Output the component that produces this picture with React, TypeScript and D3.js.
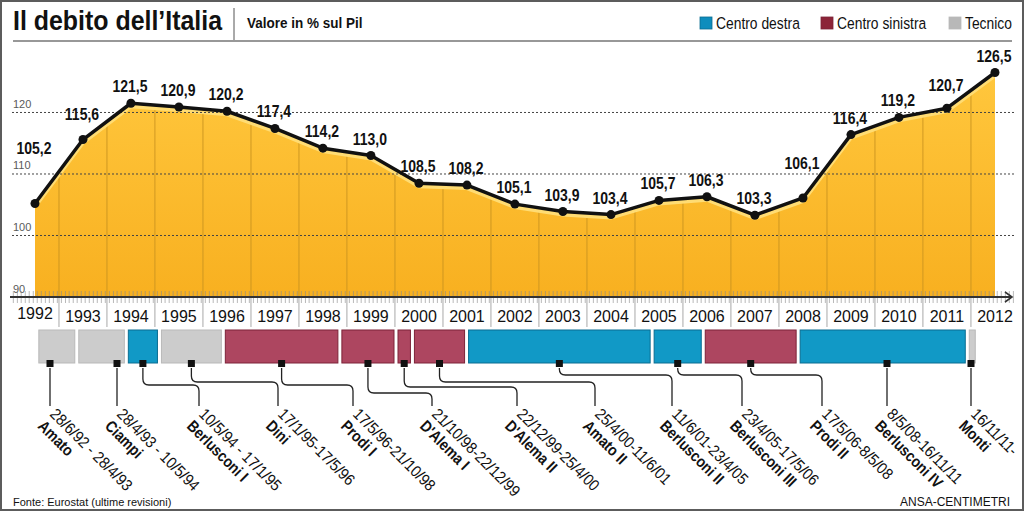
import * as d3 from "d3";
import type { ReactNode } from "react";

// Debito pubblico in % del Pil (Eurostat)
const years = [
  1992, 1993, 1994, 1995, 1996, 1997, 1998, 1999, 2000, 2001, 2002, 2003,
  2004, 2005, 2006, 2007, 2008, 2009, 2010, 2011, 2012,
];
const debt = [
  105.2, 115.6, 121.5, 120.9, 120.2, 117.4, 114.2, 113.0, 108.5, 108.2, 105.1,
  103.9, 103.4, 105.7, 106.3, 103.3, 106.1, 116.4, 119.2, 120.7, 126.5,
];
const yTicks = [90, 100, 110, 120];

// Governi
const govNames = [
  "Amato", "Ciampi", "Berlusconi I", "Dini", "Prodi I", "D'Alema I",
  "D'Alema II", "Amato II", "Berlusconi II", "Berlusconi III", "Prodi II",
  "Berlusconi IV", "Monti",
];
const govStart = [
  "1992-06-28", "1993-04-28", "1994-05-10", "1995-01-17", "1996-05-17",
  "1998-10-21", "1999-12-22", "2000-04-25", "2001-06-11", "2005-04-23",
  "2006-05-17", "2008-05-08", "2011-11-16",
];
const govEnd = [
  "1993-04-28", "1994-05-10", "1995-01-17", "1996-05-17", "1998-10-21",
  "1999-12-22", "2000-04-25", "2001-06-11", "2005-04-23", "2006-05-17",
  "2008-05-08", "2011-11-16", "2012-01-31",
];
const govPeriods = [
  "28/6/92 - 28/4/93", "28/4/93 - 10/5/94", "10/5/94 - 17/1/95",
  "17/1/95-17/5/96", "17/5/96-21/10/98", "21/10/98-22/12/99",
  "22/12/99-25/4/00", "25/4/00-11/6/01", "11/6/01-23/4/05",
  "23/4/05-17/5/06", "17/5/06-8/5/08", "8/5/08-16/11/11", "16/11/11-",
];
const govSide = ["T", "T", "CD", "T", "CS", "CS", "CS", "CS", "CD", "CD", "CS", "CD", "T"];

const legendKeys = ["CD", "CS", "T"];
const legendLabels = ["Centro destra", "Centro sinistra", "Tecnico"];

const W = 1024;
const H = 511;
const FONT = "'Liberation Sans', Arial, Helvetica, sans-serif";

const sideFill: Record<string, string> = { CD: "#1199c6", CS: "#ad4660", T: "#cccccc" };
const sideStroke: Record<string, string> = { CD: "#0a6d91", CS: "#7c2338", T: "#b9b9b9" };
const legendFill: Record<string, string> = { CD: "#0e8dbd", CS: "#8c2438", T: "#b8b8b8" };

// layout of the leader lines under the government bars
const leaderX = [50, 117, 199, 278, 353, 432, 517, 595, 672, 742, 822, 887, 971];
const elbowY = [0, 0, 385, 382, 385, 393, 387, 382, 375, 375, 375, 0, 0];
// extra lift for value labels that sit higher than usual
const labelLift: Record<number, number> = { 1992: 50, 1993: 20, 2008: 29, 2011: 17 };

// text squeezed horizontally, to stand in for a condensed face
function CText(props: {
  x: number;
  y: number;
  sx?: number;
  rot?: number;
  size: number;
  bold?: boolean;
  anchor?: "start" | "middle" | "end";
  fill?: string;
  children: ReactNode;
}) {
  const { x, y, sx = 0.85, rot = 0, size, bold, anchor = "start", fill = "#111" } = props;
  return (
    <text
      transform={`translate(${x},${y})${rot ? ` rotate(${rot})` : ""} scale(${sx},1)`}
      textAnchor={anchor}
      fontFamily={FONT}
      fontWeight={bold ? "bold" : "normal"}
      fontSize={size}
      fill={fill}
    >
      {props.children}
    </text>
  );
}

export default function App() {
  const parse = d3.timeParse("%Y-%m-%d");
  const x = d3
    .scaleTime()
    .domain([new Date(1992, 5, 14), new Date(2012, 5, 14)])
    .range([35, 995]);
  const y = d3.scaleLinear().domain([90, 126.5]).range([297, 72.5]);
  const px = (yr: number) => x(new Date(yr, 5, 14));

  const pts = years.map((yr, i) => ({ yr, v: debt[i] }));
  const area = d3
    .area<{ yr: number; v: number }>()
    .x((d) => px(d.yr))
    .y0(y(90))
    .y1((d) => y(d.v));
  const line = d3
    .line<{ yr: number; v: number }>()
    .x((d) => px(d.yr))
    .y((d) => y(d.v));

  const months = d3.timeMonth.range(new Date(1992, 0, 1), new Date(2012, 11, 1));
  const seps = years.slice(0, -1).map((yr) => (px(yr) + px(yr + 1)) / 2);

  const barTop = 330;
  const barBot = 363;
  const lineEnd = 406;

  const govs = govNames.map((name, i) => {
    const x0 = x(parse(govStart[i])!) + 2;
    const x1 = x(parse(govEnd[i])!) - 2;
    const lx = leaderX[i];
    const mx = lx >= x0 && lx <= x1 ? lx : (x0 + x1) / 2;
    return { name, x0, x1, lx, mx, ey: elbowY[i], side: govSide[i], period: govPeriods[i] };
  });

  const leader = (g: (typeof govs)[number]) => {
    const top = barBot + 5;
    if (Math.abs(g.mx - g.lx) < 1) return `M${g.mx},${top}V${lineEnd}`;
    const r = 6;
    return `M${g.mx},${top}V${g.ey - r}Q${g.mx},${g.ey} ${g.mx + r},${g.ey}H${g.lx - r}Q${g.lx},${g.ey} ${g.lx},${g.ey + r}V${lineEnd}`;
  };

  const legendX = [700, 821, 949];

  return (
    <svg
      width={W}
      height={H}
      style={{ position: "absolute", left: 0, top: 0, background: "#fff" }}
    >
      <defs>
        <linearGradient id="areaGrad" x1="0" y1="0" x2="0" y2="1">
          <stop offset="0" stopColor="#ffc73d" />
          <stop offset="1" stopColor="#f8b020" />
        </linearGradient>
        <clipPath id="areaClip">
          <path d={area(pts)!} />
        </clipPath>
      </defs>

      <rect x={1} y={1} width={W - 2} height={H - 2} fill="none" stroke="#5c5c5c" strokeWidth={2} />

      {/* header */}
      <CText x={13} y={30} size={28} bold sx={0.89}>
        Il debito dell’Italia
      </CText>
      <line x1={234} x2={234} y1={8} y2={40} stroke="#555" strokeWidth={1} />
      <CText x={247} y={28} size={15} bold sx={0.9}>
        Valore in % sul Pil
      </CText>
      {legendKeys.map((k, i) => (
        <g key={k}>
          <rect x={legendX[i]} y={17} width={12} height={12} fill={legendFill[k]} stroke={sideStroke[k]} strokeWidth={0.8} />
          <CText x={legendX[i] + 16} y={29} size={16.5} sx={0.84}>
            {legendLabels[i]}
          </CText>
        </g>
      ))}
      <line x1={13} x2={1012} y1={41} y2={41} stroke="#333" strokeWidth={1.2} />

      {/* area */}
      <path d={area(pts)!} fill="url(#areaGrad)" />
      <g clipPath="url(#areaClip)">
        {seps.map((sx, i) => (
          <line key={i} x1={sx} x2={sx} y1={60} y2={297} stroke="#c99420" strokeWidth={0.9} />
        ))}
        <path d={line(pts)!} transform="translate(0,3)" fill="none" stroke="#ffdc73" strokeWidth={4} />
      </g>

      {/* horizontal grid */}
      {yTicks.slice(1).map((t) => (
        <line key={t} x1={12} x2={1015} y1={y(t)} y2={y(t)} stroke="#444" strokeWidth={1} strokeDasharray="2 2" />
      ))}
      {yTicks.map((t) => (
        <text key={t} x={13} y={y(t) - 4.5} fontFamily={FONT} fontSize={11} fill="#5a5a5a">
          {t}
        </text>
      ))}

      {/* x axis */}
      {months.map((m, i) => (
        <line key={i} x1={x(m)} x2={x(m)} y1={291} y2={303} stroke="#8a8a8a" strokeWidth={0.6} />
      ))}
      <line x1={10} x2={1012} y1={297} y2={297} stroke="#333" strokeWidth={2} />
      <polyline points="1005,292 1012,297 1005,302" fill="none" stroke="#333" strokeWidth={1.6} />
      {seps.map((sx, i) => (
        <line key={i} x1={sx} x2={sx} y1={298} y2={327} stroke="#a8a8a8" strokeWidth={1} />
      ))}
      {years.map((yr, i) => (
        <text key={yr} x={px(yr)} y={i === 0 ? 319 : 322} textAnchor="middle" fontFamily={FONT} fontSize={16} fill="#111">
          {yr}
        </text>
      ))}

      {/* line and points */}
      <path d={line(pts)!} fill="none" stroke="#111" strokeWidth={3.5} strokeLinejoin="round" />
      {pts.map((d) => (
        <circle key={d.yr} cx={px(d.yr)} cy={y(d.v)} r={4.5} fill="#111" />
      ))}
      {pts.map((d) => (
        <CText key={d.yr} x={px(d.yr) - 1} y={y(d.v) - (labelLift[d.yr] ?? 11)} size={16} bold sx={0.875} anchor="middle">
          {d.v.toFixed(1).replace(".", ",")}
        </CText>
      ))}

      {/* governments */}
      {govs.map((g) => (
        <rect
          key={g.name}
          x={g.x0}
          y={barTop}
          width={Math.max(1, g.x1 - g.x0)}
          height={barBot - barTop}
          fill={sideFill[g.side]}
          stroke={sideStroke[g.side]}
          strokeWidth={1}
        />
      ))}
      {govs.map((g) => {
        const ox = g.lx - 1;
        const oy = lineEnd + 9;
        return (
          <g key={g.name}>
            <path d={leader(g)} fill="none" stroke="#222" strokeWidth={1.3} />
            <rect x={g.mx - 3.5} y={barBot - 3} width={7} height={7} fill="#111" />
            <CText x={ox} y={oy} rot={45} size={16} sx={0.9}>
              {g.period}
            </CText>
            <CText x={ox - 12} y={oy + 12} rot={45} size={16} bold sx={0.86}>
              {g.name}
            </CText>
          </g>
        );
      })}

      {/* footer */}
      <text x={13} y={506} fontFamily={FONT} fontSize={11} fill="#111">
        Fonte: Eurostat (ultime revisioni)
      </text>
      <text x={1010} y={506} textAnchor="end" fontFamily={FONT} fontSize={12} fill="#111">
        ANSA-CENTIMETRI
      </text>
    </svg>
  );
}
